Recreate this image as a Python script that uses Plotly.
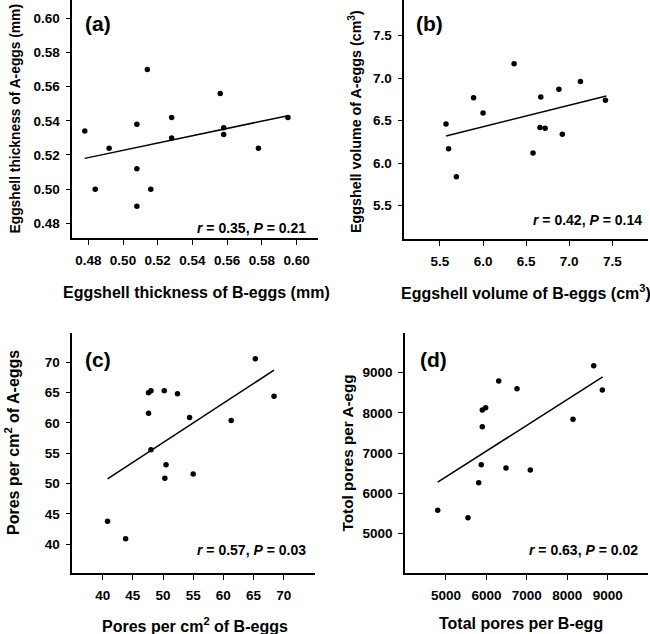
import plotly.graph_objects as go

# ---------------- data ----------------
# (a) eggshell thickness (mm)
a_x = [0.478, 0.484, 0.492, 0.508, 0.508, 0.508, 0.514, 0.516, 0.528, 0.528, 0.556, 0.558, 0.558, 0.578, 0.595]
a_y = [0.534, 0.500, 0.524, 0.538, 0.512, 0.490, 0.570, 0.500, 0.542, 0.530, 0.556, 0.536, 0.532, 0.524, 0.542]
a_fit_x = [0.478, 0.595]
a_fit_y = [0.518, 0.543]

# (b) eggshell volume (cm3)
b_x = [5.57, 5.60, 5.69, 5.89, 6.00, 6.36, 6.58, 6.66, 6.67, 6.72, 6.88, 6.92, 7.13, 7.42]
b_y = [6.46, 6.17, 5.84, 6.77, 6.59, 7.17, 6.12, 6.42, 6.78, 6.41, 6.87, 6.34, 6.96, 6.74]
b_fit_x = [5.57, 7.43]
b_fit_y = [6.32, 6.79]

# (c) pores per cm2
c_x = [40.8, 43.8, 47.6, 48.0, 47.6, 48.0, 50.2, 50.5, 50.3, 52.4, 54.4, 55.0, 61.3, 65.3, 68.4]
c_y = [43.8, 40.9, 65.0, 65.3, 61.6, 55.6, 65.3, 53.1, 50.9, 64.8, 60.9, 51.6, 60.4, 70.6, 64.4]
c_fit_x = [40.8, 68.4]
c_fit_y = [50.8, 68.7]

# (d) total pores per egg
d_x = [4795, 5544, 5809, 5873, 5898, 5898, 5982, 6304, 6484, 6757, 7086, 8142, 8654, 8867]
d_y = [5581, 5398, 6267, 6714, 7658, 8073, 8130, 8794, 6632, 8602, 6583, 7842, 9174, 8570]
d_fit_x = [4795, 8877]
d_fit_y = [6284, 8893]

a_ticks = [0.48, 0.50, 0.52, 0.54, 0.56, 0.58, 0.60]
b_ticks = [5.5, 6.0, 6.5, 7.0, 7.5]
c_ticks = [40, 45, 50, 55, 60, 65, 70]
d_ticks = [5000, 6000, 7000, 8000, 9000]

stats = ["<i>r</i> = 0.35, <i>P</i> = 0.21", "<i>r</i> = 0.42, <i>P</i> = 0.14",
         "<i>r</i> = 0.57, <i>P</i> = 0.03", "<i>r</i> = 0.63, <i>P</i> = 0.02"]
panel_labels = ["(a)", "(b)", "(c)", "(d)"]
x_titles = ["Eggshell thickness of B-eggs (mm)", "Eggshell volume of B-eggs (cm<sup>3</sup>)",
            "Pores per cm<sup>2</sup> of B-eggs", "Total pores per B-egg"]
y_titles = ["Eggshell thickness of A-eggs (mm)", "Eggshell volume of A-eggs (cm<sup>3</sup>)",
            "Pores per cm<sup>2</sup> of A-eggs", "Totol pores per A-egg"]

# ---------------- layout helpers ----------------
W, H = 650, 634
FONT = "Liberation Sans, Arial, sans-serif"

def px(p):
    return p / W

def py(p):
    return 1 - p / H

fig = go.Figure()

panels = [
    dict(x=a_x, y=a_y, fx=a_fit_x, fy=a_fit_y, xd=(72.3, 318), yd=(0, 238),
         xr=(0.4708, 0.6123), yr=(0.4714, 0.6107), xt=a_ticks, yt=a_ticks, fmt=".2f"),
    dict(x=b_x, y=b_y, fx=b_fit_x, fy=b_fit_y, xd=(404.3, 648), yd=(0, 239),
         xr=(5.086, 7.914), yr=(5.108, 7.92), xt=b_ticks, yt=b_ticks, fmt=".1f"),
    dict(x=c_x, y=c_y, fx=c_fit_x, fy=c_fit_y, xd=(72.3, 315), yd=(333, 573.3),
         xr=(34.96, 75.19), yr=(35.22, 74.83), xt=c_ticks, yt=c_ticks, fmt="d"),
    dict(x=d_x, y=d_y, fx=d_fit_x, fy=d_fit_y, xd=(405, 648), yd=(333, 573.3),
         xr=(3986, 9997), yr=(4016, 9986), xt=d_ticks, yt=d_ticks, fmt="d"),
]

axis_common = dict(showline=True, linecolor="black", linewidth=1.5, mirror=False,
                   ticks="outside", ticklen=5, tickwidth=1.2, tickcolor="black",
                   showgrid=False, zeroline=False,
                   tickfont=dict(family=FONT, size=13.5, color="black", weight="bold"))

layout = dict(width=W, height=H, margin=dict(l=0, r=0, t=0, b=0),
              plot_bgcolor="white", paper_bgcolor="white", showlegend=False)

for i, p in enumerate(panels):
    n = "" if i == 0 else str(i + 1)
    xa, ya = "x" + n, "y" + n
    fig.add_trace(go.Scatter(x=p["fx"], y=p["fy"], mode="lines",
                             line=dict(color="black", width=1.5), xaxis=xa, yaxis=ya))
    fig.add_trace(go.Scatter(x=p["x"], y=p["y"], mode="markers",
                             marker=dict(color="black", size=5.5), xaxis=xa, yaxis=ya))
    layout["xaxis" + n] = dict(axis_common, domain=[px(p["xd"][0]), px(p["xd"][1])],
                               range=list(p["xr"]), anchor=ya, tickvals=p["xt"],
                               tickformat=p["fmt"], ticklabelstandoff=4)
    layout["yaxis" + n] = dict(axis_common, domain=[py(p["yd"][1]), py(p["yd"][0])],
                               range=list(p["yr"]), anchor=xa, tickvals=p["yt"],
                               tickformat=p["fmt"], ticklabelstandoff=3)

fig.update_layout(**layout)

bold = dict(family=FONT, color="black", weight="bold")

# panel letters
lab_pos = [(97.5, 24), (429, 24), (97.5, 359), (433, 359)]
for t, (x, y) in zip(panel_labels, lab_pos):
    fig.add_annotation(text=t, x=px(x), y=py(y), xref="paper", yref="paper",
                       showarrow=False, font=dict(bold, size=21), xanchor="center", yanchor="middle")

# statistics text (right aligned)
st_pos = [(308, 227.5), (644, 220), (308, 550), (640, 550)]
for t, (x, y) in zip(stats, st_pos):
    fig.add_annotation(text=t, x=px(x), y=py(y), xref="paper", yref="paper",
                       showarrow=False, font=dict(bold, size=14), xanchor="right", yanchor="middle")

# x axis titles
xt_pos = [(196, 292), (526, 292), (195, 625), (521, 623)]
for t, (x, y) in zip(x_titles, xt_pos):
    fig.add_annotation(text=t, x=px(x), y=py(y), xref="paper", yref="paper",
                       showarrow=False, font=dict(bold, size=16), xanchor="center", yanchor="middle")

# y axis titles
yt_pos = [(15.5, 119), (355, 121), (12, 443), (346.5, 453)]
yt_size = [13.8, 14.3, 16, 15.3]
for t, (x, y), s in zip(y_titles, yt_pos, yt_size):
    fig.add_annotation(text=t, x=px(x), y=py(y), xref="paper", yref="paper", textangle=-90,
                       showarrow=False, font=dict(bold, size=s), xanchor="center", yanchor="middle")

fig.write_html("out.html", config={"displayModeBar": False},
               post_script="document.body.style.margin='0px';document.body.style.overflow='hidden';")
